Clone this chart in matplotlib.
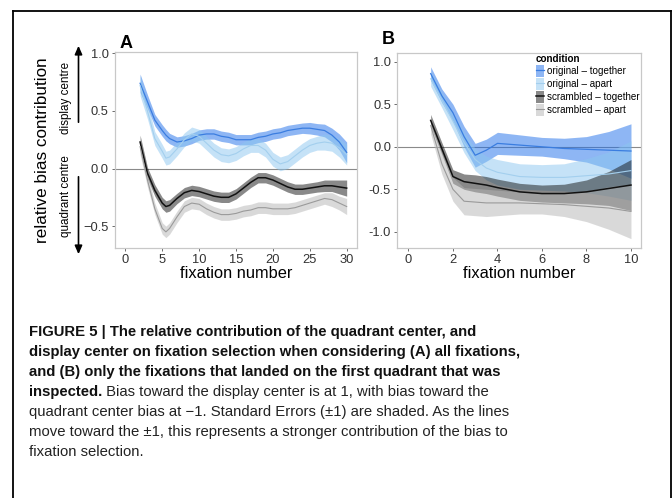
import matplotlib
matplotlib.use('Agg')
import matplotlib.pyplot as plt
from matplotlib import font_manager
from matplotlib.lines import Line2D
import numpy as np

# --- データ ---
FIX_A = [2, 3, 4, 5, 5.5, 6, 7, 8, 9, 10, 11, 12, 13, 14, 15, 16, 17, 18, 19, 20,
         21, 22, 23, 24, 25, 26, 27, 28, 29, 30]
A_ORIG_TOG = [0.74, 0.58, 0.42, 0.33, 0.29, 0.26, 0.23, 0.24, 0.26, 0.29, 0.30, 0.30, 0.28, 0.27, 0.25,
              0.25, 0.25, 0.27, 0.28, 0.30, 0.31, 0.33, 0.34, 0.35, 0.35, 0.34, 0.33, 0.29, 0.23, 0.14]
A_ORIG_TOG_SE = [0.08, 0.06, 0.05, 0.05, 0.05, 0.045, 0.045, 0.045, 0.045, 0.045, 0.045, 0.045, 0.045, 0.045, 0.045,
                 0.045, 0.045, 0.045, 0.045, 0.045, 0.045, 0.045, 0.045, 0.045, 0.05, 0.05, 0.055, 0.06, 0.07, 0.09]
A_ORIG_APA = [0.72, 0.50, 0.26, 0.15, 0.09, 0.10, 0.17, 0.25, 0.30, 0.28, 0.22, 0.16, 0.12, 0.11, 0.13,
              0.17, 0.20, 0.20, 0.16, 0.08, 0.04, 0.06, 0.11, 0.16, 0.20, 0.22, 0.23, 0.22, 0.18, 0.12]
A_ORIG_APA_SE = [0.09, 0.07, 0.06, 0.06, 0.06, 0.06, 0.06, 0.06, 0.06, 0.06, 0.06, 0.06, 0.06, 0.06, 0.06,
                 0.06, 0.06, 0.06, 0.06, 0.06, 0.06, 0.06, 0.06, 0.06, 0.06, 0.06, 0.07, 0.07, 0.08, 0.09]
A_SCR_TOG = [0.23, -0.04, -0.19, -0.30, -0.33, -0.32, -0.26, -0.21, -0.19, -0.20, -0.22, -0.24, -0.25, -0.25, -0.22,
             -0.17, -0.12, -0.08, -0.08, -0.10, -0.13, -0.16, -0.18, -0.18, -0.17, -0.16, -0.15, -0.15, -0.16, -0.17]
A_SCR_TOG_SE = [0.06, 0.05, 0.05, 0.05, 0.05, 0.05, 0.045, 0.045, 0.045, 0.045, 0.045, 0.045, 0.045, 0.045, 0.045,
                0.045, 0.045, 0.045, 0.045, 0.045, 0.045, 0.045, 0.045, 0.045, 0.045, 0.045, 0.05, 0.05, 0.06, 0.07]
A_SCR_APA = [0.19, -0.10, -0.35, -0.52, -0.55, -0.52, -0.42, -0.33, -0.30, -0.31, -0.35, -0.38, -0.40, -0.40, -0.39,
             -0.37, -0.36, -0.34, -0.34, -0.35, -0.35, -0.35, -0.34, -0.32, -0.30, -0.28, -0.26, -0.27, -0.30, -0.33]
A_SCR_APA_SE = [0.07, 0.06, 0.05, 0.05, 0.05, 0.05, 0.05, 0.05, 0.05, 0.05, 0.05, 0.05, 0.05, 0.05, 0.05,
                0.05, 0.05, 0.05, 0.05, 0.05, 0.05, 0.05, 0.05, 0.05, 0.05, 0.05, 0.05, 0.06, 0.06, 0.07]

FIX_B = [1, 1.5, 2, 2.5, 3, 3.5, 4, 5, 6, 7, 8, 9, 10]
B_ORIG_TOG = [0.86, 0.60, 0.40, 0.12, -0.10, -0.04, 0.04, 0.02, 0.00, -0.02, -0.03, -0.04, -0.05]
B_ORIG_TOG_SE = [0.08, 0.08, 0.10, 0.12, 0.14, 0.13, 0.13, 0.12, 0.11, 0.12, 0.15, 0.22, 0.32]
B_ORIG_APA = [0.80, 0.55, 0.30, 0.05, -0.15, -0.25, -0.30, -0.35, -0.36, -0.36, -0.34, -0.32, -0.28]
B_ORIG_APA_SE = [0.09, 0.09, 0.10, 0.12, 0.13, 0.14, 0.15, 0.15, 0.15, 0.16, 0.20, 0.26, 0.35]
B_SCR_TOG = [0.31, -0.02, -0.35, -0.41, -0.43, -0.45, -0.48, -0.53, -0.55, -0.55, -0.53, -0.49, -0.45]
B_SCR_TOG_SE = [0.07, 0.07, 0.08, 0.09, 0.10, 0.10, 0.10, 0.10, 0.10, 0.11, 0.14, 0.20, 0.30]
B_SCR_APA = [0.25, -0.20, -0.50, -0.64, -0.65, -0.66, -0.66, -0.66, -0.67, -0.68, -0.70, -0.72, -0.76]
B_SCR_APA_SE = [0.10, 0.12, 0.14, 0.16, 0.16, 0.16, 0.15, 0.13, 0.12, 0.14, 0.18, 0.25, 0.32]

CONDITIONS = ['original \u2013 together', 'original \u2013 apart',
              'scrambled \u2013 together', 'scrambled \u2013 apart']

CAPTION_BOLD = [
    'FIGURE 5 | The relative contribution of the quadrant center, and',
    'display center on fixation selection when considering (A) all fixations,',
    'and (B) only the fixations that landed on the first quadrant that was',
    'inspected.',
]
CAPTION_REGULAR = [
    ' Bias toward the display center is at 1, with bias toward the',
    'quadrant center bias at \u22121. Standard Errors (\u00b11) are shaded. As the lines',
    'move toward the \u00b11, this represents a stronger contribution of the bias to',
    'fixation selection.',
]

# --- スタイル ---
RIBBON = ['#1f6fea', '#8cc6f0', '#151515', '#b5b5b5']
LINE = ['#3a7de0', '#a3cfee', '#111111', '#9a9a9a']
LINE_W = [0.9, 0.8, 1.1, 0.8]

names = {f.name for f in font_manager.fontManager.ttflist}
SANS = 'Liberation Sans' if 'Liberation Sans' in names else 'DejaVu Sans'
NARROW = 'Liberation Sans Narrow' if 'Liberation Sans Narrow' in names else SANS
plt.rcParams['font.family'] = [SANS, 'DejaVu Sans']

W, H = 672, 498
fig = plt.figure(figsize=(W / 100, H / 100), dpi=100)


def px(x0, y0, x1, y1):
    # ピクセル座標 -> figure座標
    return [x0 / W, 1 - y1 / H, (x1 - x0) / W, (y1 - y0) / H]


def style_axes(ax, xcenter):
    for s in ax.spines.values():
        s.set_color('#c8c8c8')
        s.set_linewidth(0.9)
    ax.tick_params(length=2, width=0.6, color='#555555', labelsize=9.3,
                   labelcolor='#333333', pad=2.5)
    fig.text(xcenter / W, 1 - 278 / H, 'fixation number', fontsize=11.8,
             ha='center', va='baseline')


def draw_series(ax, x, series, ses):
    for i, (y, se) in enumerate(zip(series, ses)):
        y = np.array(y)
        se = np.array(se)
        ax.fill_between(x, y - se, y + se, color=RIBBON[i], alpha=0.5, lw=0, zorder=2)
    for i, y in enumerate(series):
        ax.plot(x, y, color=LINE[i], lw=LINE_W[i], zorder=3, label=CONDITIONS[i])


# --- パネル A ---
axA = fig.add_axes(px(115, 51.7, 357, 248))
axA.axhline(0, color='#8a8a8a', lw=0.8, zorder=1)
draw_series(axA, FIX_A, [A_ORIG_TOG, A_ORIG_APA, A_SCR_TOG, A_SCR_APA],
            [A_ORIG_TOG_SE, A_ORIG_APA_SE, A_SCR_TOG_SE, A_SCR_APA_SE])
axA.set_xlim(-1.4, 31.4)
axA.set_ylim(-0.69, 1.014)
axA.set_xticks([0, 5, 10, 15, 20, 25, 30])
axA.set_yticks([-0.5, 0.0, 0.5, 1.0])
axA.set_yticklabels(['\u22120.5', '0.0', '0.5', '1.0'])
style_axes(axA, 236)

# --- パネル B ---
axB = fig.add_axes(px(397.3, 52.7, 641, 248))
axB.axhline(0, color='#8a8a8a', lw=0.8, zorder=1)
draw_series(axB, FIX_B, [B_ORIG_TOG, B_ORIG_APA, B_SCR_TOG, B_SCR_APA],
            [B_ORIG_TOG_SE, B_ORIG_APA_SE, B_SCR_TOG_SE, B_SCR_APA_SE])
axB.set_xlim(-0.5, 10.45)
axB.set_ylim(-1.19, 1.106)
axB.set_xticks([0, 2, 4, 6, 8, 10])
axB.set_yticks([-1.0, -0.5, 0.0, 0.5, 1.0])
axB.set_yticklabels(['-1.0', '-0.5', '0.0', '0.5', '1.0'])
style_axes(axB, 519)

# 凡例 (リボン + 線)
handles = []
for i in range(4):
    patch = matplotlib.patches.Patch(facecolor=RIBBON[i], alpha=0.5, lw=0)
    line = Line2D([], [], color=LINE[i], lw=LINE_W[i])
    handles.append((patch, line))
leg = axB.legend(handles, CONDITIONS, title='condition', loc='upper right',
                 bbox_to_anchor=(1.0, 1.0), frameon=False, fontsize=7.1,
                 handlelength=0.85, handleheight=1.45, handletextpad=0.25,
                 labelspacing=0.12, borderaxespad=0.05, borderpad=0.1,
                 alignment='left')
leg.get_title().set_fontsize(7.1)
leg.get_title().set_fontweight('bold')

# パネルラベル
fig.text(120 / W, 1 - 43 / H, 'A', fontsize=13, fontweight='bold', va='center')
fig.text(382 / W, 1 - 40 / H, 'B', fontsize=13, fontweight='bold', va='center')

# 縦軸ラベルと矢印
fig.text(43 / W, 1 - 150 / H, 'relative bias contribution', rotation=90,
         fontsize=12.3, ha='center', va='center')
fig.text(66 / W, 1 - 98.3 / H, 'display centre', rotation=90, fontsize=8.4,
         ha='center', va='center')
fig.text(66 / W, 1 - 195.7 / H, 'quadrant centre', rotation=90, fontsize=8.4,
         ha='center', va='center')
arrow_kw = dict(arrowstyle='-|>,head_length=0.5,head_width=0.22', color='black', lw=1.2)
fig.add_artist(matplotlib.patches.FancyArrowPatch(
    (78.5 / W, 1 - 125 / H), (78.5 / W, 1 - 43 / H), transform=fig.transFigure,
    mutation_scale=10, **arrow_kw))
fig.add_artist(matplotlib.patches.FancyArrowPatch(
    (78.5 / W, 1 - 174 / H), (78.5 / W, 1 - 257 / H), transform=fig.transFigure,
    mutation_scale=10, **arrow_kw))

# 枠線
for xs, ys in [([13, 13], [11, H]), ([13, 670.5], [11, 11]), ([670.5, 670.5], [11, H])]:
    fig.add_artist(Line2D([x / W for x in xs], [1 - y / H for y in ys],
                          transform=fig.transFigure, color='black', lw=1.3))

# --- キャプション ---
renderer = fig.canvas.get_renderer()
probe = fig.text(0, 0, CAPTION_BOLD[1], family=NARROW, fontweight='bold', fontsize=10)
probe_w = probe.get_window_extent(renderer).width
probe.remove()
cap_size = 10 * (522 - 29) / probe_w

x0 = 29
for k in range(7):
    yc = 1 - (332 + 20 * k) / H
    if k < 4:
        t = fig.text(x0 / W, yc, CAPTION_BOLD[k], family=NARROW, fontweight='bold',
                     fontsize=cap_size, va='center', color='#111111')
        if k == 3:
            bb = t.get_window_extent(renderer)
            fig.text(bb.x1 / W, yc, CAPTION_REGULAR[0], family=NARROW,
                     fontsize=cap_size, va='center', color='#222222')
    else:
        fig.text(x0 / W, yc, CAPTION_REGULAR[k - 3], family=NARROW,
                 fontsize=cap_size, va='center', color='#222222')

fig.savefig('out.png', dpi=100)
